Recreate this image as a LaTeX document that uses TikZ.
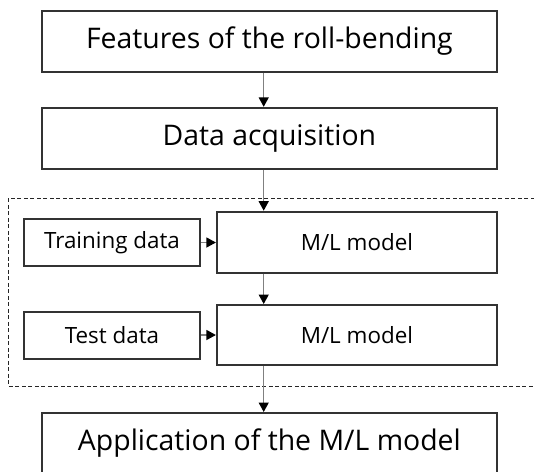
\documentclass[tikz,border=0pt]{standalone}
\usepackage{fontspec}
\setmainfont{Open Sans}
\usetikzlibrary{arrows.meta}

\begin{document}
\begin{tikzpicture}[x=1pt,y=-1pt,>={Triangle[length=9.5pt,width=10pt,color=black]},
    box/.style={draw=black!80,line width=2pt,fill=white,inner sep=0pt,minimum width=455pt,minimum height=61pt,font=\fontsize{28.4}{34}\selectfont},
    mlbox/.style={box,minimum width=280pt,font=\fontsize{22.4}{28}\selectfont},
    databox/.style={box,minimum width=176pt,minimum height=47pt,font=\fontsize{22.4}{28}\selectfont},
    flow/.style={->,draw=black!50,line width=1.4pt}]
    \clip (0,0) rectangle (534,471);

    % dashed frame round the learning part
    \draw[dashed,dash pattern=on 4pt off 2.5pt,line width=1.4pt,black!85] (8.7,198.3) rectangle (548,386.7);

    \node[box] (feat) at (269.4,41) {Features of the roll-bending};
    \node[box] (data) at (269.4,138.3) {Data acquisition};
    \node[mlbox] (ml1) at (356.9,242.2) {M/L model};
    \node[mlbox,minimum height=60pt] (ml2) at (356.9,335) {M/L model};
    \node[databox] (train) at (112,242.5) {Training data};
    \node[databox] (test) at (112,335) {Test data};
    \node[box] (app) at (269.4,443.5) {Application of the M/L model};

    \coordinate (ax) at (263.7,0);
    \draw[flow] (feat.south -| ax) -- (data.north -| ax);
    \draw[flow] (data.south -| ax) -- (ml1.north -| ax);
    \draw[flow] (ml1.south -| ax) -- (ml2.north -| ax);
    \draw[flow] (ml2.south -| ax) -- (app.north -| ax);
    \draw[flow] (train.east) -- (ml1.west |- train.east);
    \draw[flow] (test.east) -- (ml2.west |- test.east);
\end{tikzpicture}
\end{document}
